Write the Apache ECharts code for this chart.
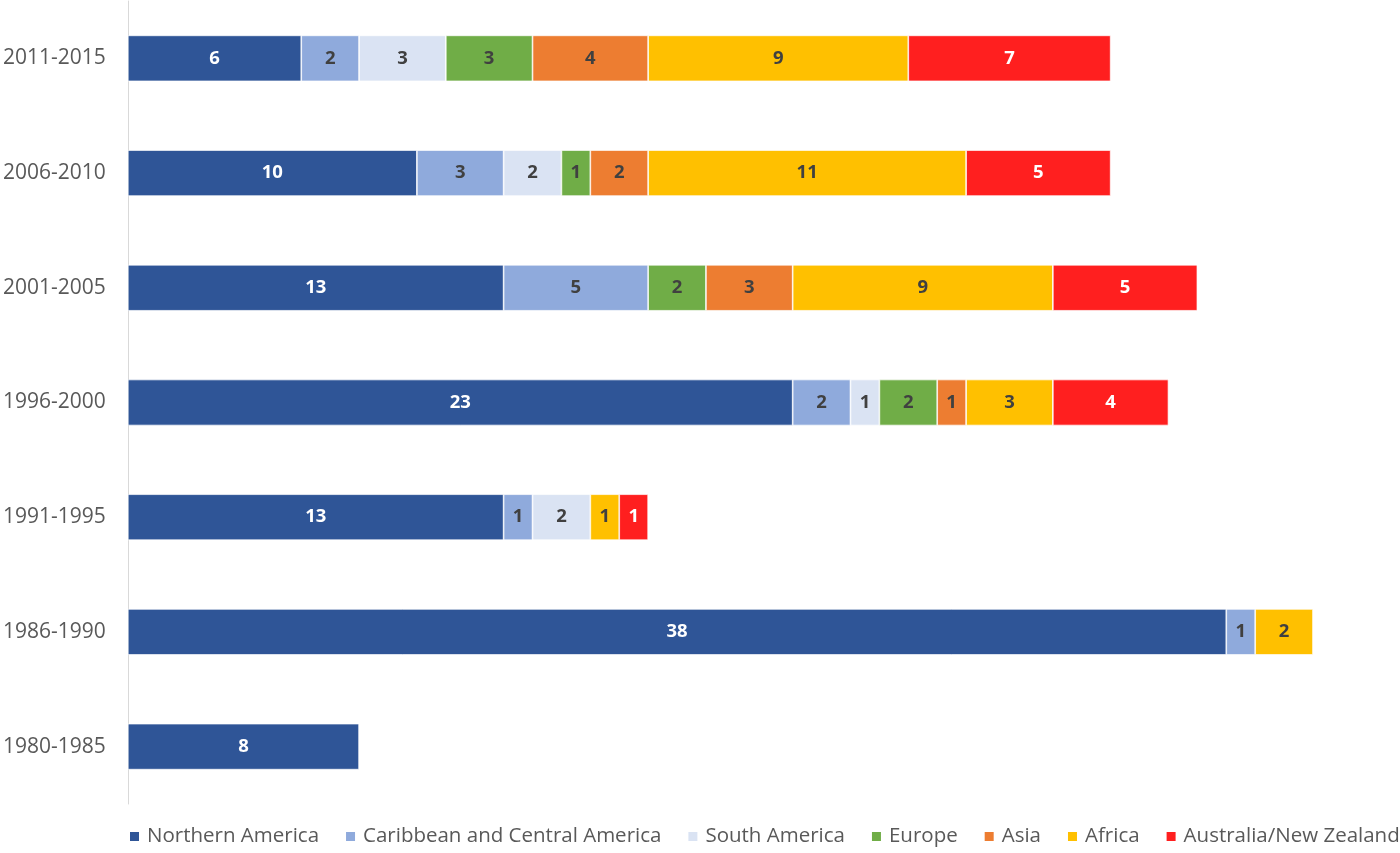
<!DOCTYPE html>
<html><head><meta charset="utf-8">
<script src="https://cdn.jsdelivr.net/npm/echarts@6/dist/echarts.min.js"></script>
<style>html,body{margin:0;padding:0;background:#fff}#c{width:1400px;height:853px}</style>
</head><body><div id="c"></div>
<script>
const categories = ['1980-1985','1986-1990','1991-1995','1996-2000','2001-2005','2006-2010','2011-2015'];
const northernAmerica = [8, 38, 13, 23, 13, 10, 6];
const caribbean = [null, 1, 1, 2, 5, 3, 2];
const southAmerica = [null, null, 2, 1, null, 2, 3];
const europe = [null, null, null, 2, 2, 1, 3];
const asia = [null, null, null, 1, 3, 2, 4];
const africa = [null, 2, 1, 3, 9, 11, 9];
const australiaNZ = [null, null, 1, 4, 5, 5, 7];

const seriesDefs = [
  ['Northern America', northernAmerica, '#2F5597', '#ffffff'],
  ['Caribbean and Central America', caribbean, '#8FAADC', '#404040'],
  ['South America', southAmerica, '#DAE3F3', '#404040'],
  ['Europe', europe, '#70AD47', '#404040'],
  ['Asia', asia, '#ED7D31', '#404040'],
  ['Africa', africa, '#FFC000', '#404040'],
  ['Australia/New Zealand', australiaNZ, '#FF1F1F', '#ffffff']
];

const chart = echarts.init(document.getElementById('c'), null, {renderer:'canvas'});
chart.setOption({
  animation: false,
  textStyle: {fontFamily: 'Open Sans, Noto Sans, sans-serif'},
  grid: {left: 127, top: 1, width: 1186, height: 803},
  legend: {
    bottom: 1, left: 123, width: 1277, padding: [5, 0, 5, 5], itemWidth: 11, itemHeight: 11, itemGap: 25,
    icon: 'rect',
    textStyle: {color: '#595959', fontSize: 20.5, fontFamily: 'Open Sans, sans-serif', padding: [0, 0, 0, 2]},
    data: seriesDefs.map(d => d[0])
  },
  xAxis: {type: 'value', min: 0, max: 41, show: false, splitLine: {show: false}},
  yAxis: {
    type: 'category', data: categories,
    axisLine: {show: true, lineStyle: {color: '#D9D9D9', width: 1}},
    axisTick: {show: false},
    axisLabel: {color: '#595959', fontSize: 21, margin: 22}
  },
  series: seriesDefs.map(d => ({
    name: d[0], type: 'bar', stack: 'total', data: d[1], barWidth: 46,
    itemStyle: {color: d[2], borderColor: '#ffffff', borderWidth: 0.7},
    label: {show: true, position: 'inside', color: d[3], fontSize: 18.5, fontWeight: 'bold',
      formatter: p => (p.value == null ? '' : p.value)}
  }))
});
</script></body></html>
